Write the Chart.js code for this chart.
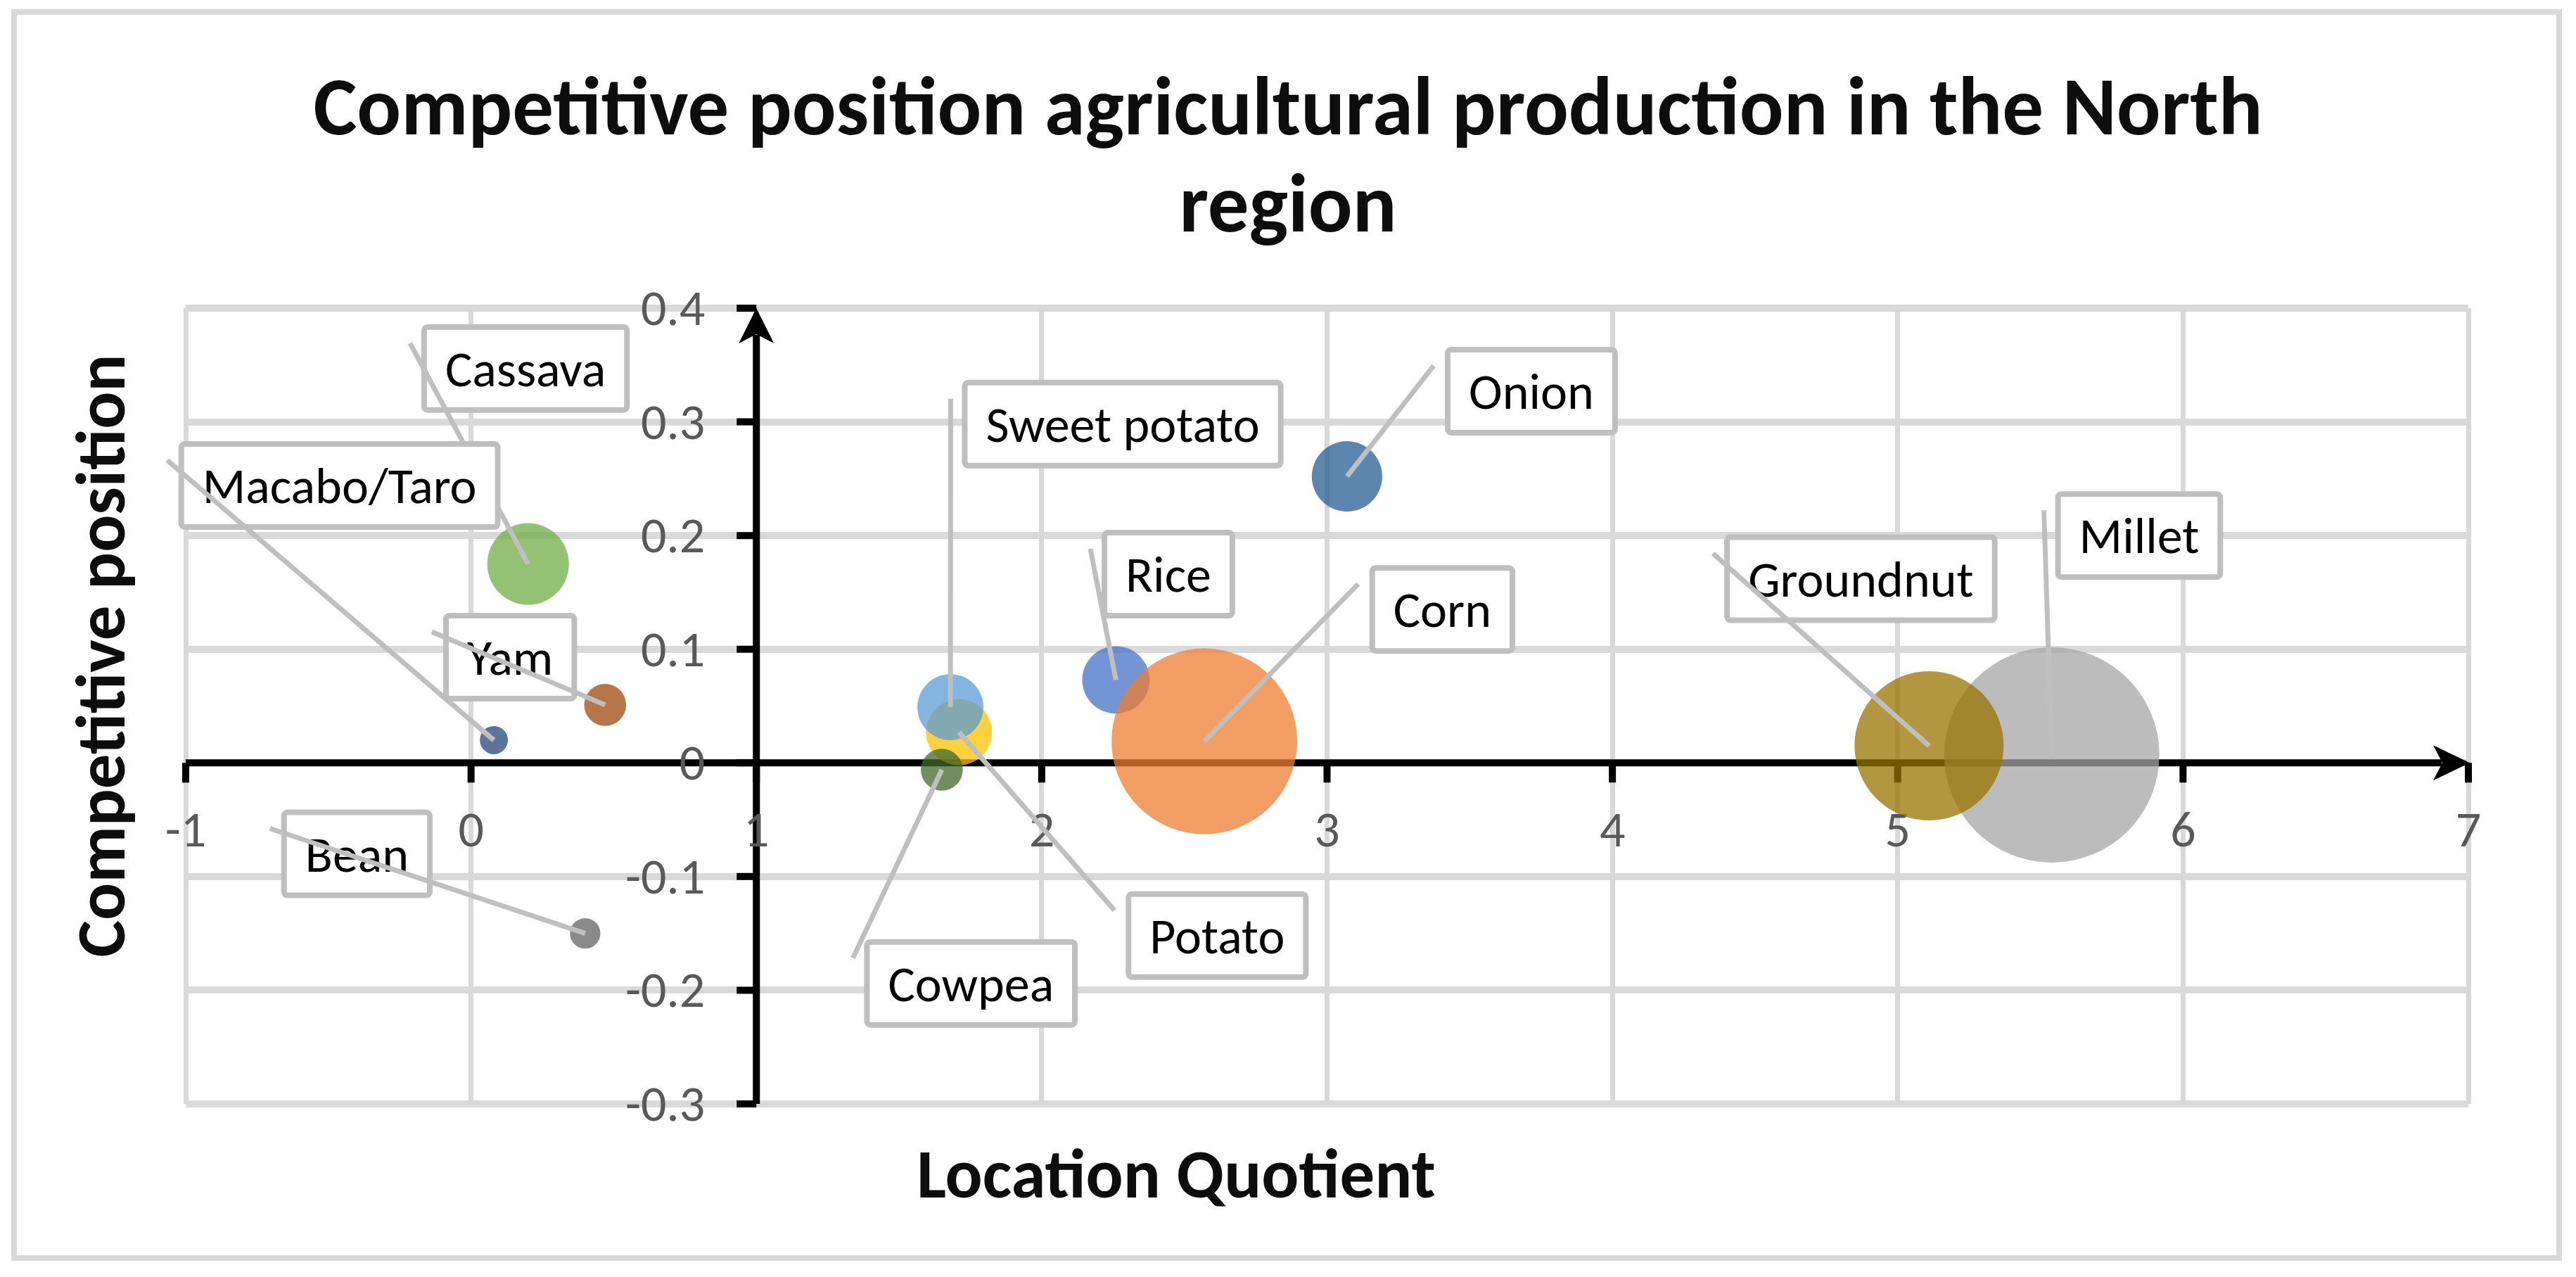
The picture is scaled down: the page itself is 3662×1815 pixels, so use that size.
<!DOCTYPE html>
<html>
<head>
<meta charset="utf-8">
<script src="https://cdn.jsdelivr.net/npm/chart.js@4.4.1/dist/chart.umd.min.js"></script>
<style>
  html, body { margin: 0; padding: 0; background: #fff; }
  #wrap { position: relative; width: 3662px; height: 1815px; }
</style>
</head>
<body>
<div id="wrap"><canvas id="bubbleChart" width="3662" height="1815"></canvas></div>
<script>
// crops, in the series order of the original sheet
const crops = ['Rice', 'Corn', 'Millet', 'Potato', 'Sweet potato', 'Cassava',
  'Macabo/Taro', 'Yam', 'Bean', 'Groundnut', 'Onion', 'Cowpea'];
const locationQuotient = [2.26, 2.57, 5.54, 1.71, 1.68, 0.20, 0.08, 0.47, 0.40, 5.11, 3.07, 1.65];
const competitivePosition = [0.073, 0.019, 0.007, 0.027, 0.049, 0.175, 0.020, 0.051, -0.150, 0.015, 0.252, -0.006];
// relative production (bubble size, area)
const production = [9.8, 74.4, 100, 9.4, 9.4, 14.4, 1.7, 3.8, 2.0, 48.0, 10.7, 3.8];

const xRange = [-1, 7];
const yRange = [-0.3, 0.4];

const chartTitle = ['Competitive position agricultural production in the North', 'region'];
const xTitle = 'Location Quotient';
const yTitle = 'Competitive position';

// styling
const cropColors = ['#4472C4', '#ED7D31', '#A5A5A5', '#FFC000', '#5B9BD5', '#70AD47',
  '#264478', '#9E480E', '#636363', '#997300', '#255E91', '#43682B'];
// where each data label box sits (centre, in axis units)
const labelPos = [[2.444, 0.166], [3.404, 0.135], [5.846, 0.200], [2.615, -0.152],
  [2.284, 0.298], [0.191, 0.347], [-0.461, 0.244], [0.137, 0.093], [-0.400, -0.080],
  [4.871, 0.162], [3.716, 0.327], [1.752, -0.194]];

const FONT = '"Carlito", "Lato", sans-serif';
const MAX_R = 153;

function hexA(hex, a) {
  const n = parseInt(hex.slice(1), 16);
  return `rgba(${n >> 16}, ${(n >> 8) & 255}, ${n & 255}, ${a})`;
}

const maxSize = Math.max(...production);
const points = crops.map((c, i) => ({
  x: locationQuotient[i],
  y: competitivePosition[i],
  r: MAX_R * Math.sqrt(production[i] / maxSize)
}));

const decor = {
  id: 'decor',
  beforeDraw(chart) {
    const ctx = chart.ctx;
    ctx.save();
    ctx.fillStyle = '#fff';
    ctx.fillRect(0, 0, chart.width, chart.height);
    ctx.strokeStyle = '#d9d9d9';
    ctx.lineWidth = 8;
    ctx.strokeRect(20, 17, 3618, 1771);
    ctx.restore();
  },
  beforeDatasetsDraw(chart) {
    const { ctx, scales: { x, y } } = chart;
    const ax = x.getPixelForValue(1);
    const ay = y.getPixelForValue(0);
    const top = y.getPixelForValue(yRange[1]);
    const bottom = y.getPixelForValue(yRange[0]);
    const left = x.getPixelForValue(xRange[0]);
    const right = x.getPixelForValue(xRange[1]);
    ctx.save();
    ctx.strokeStyle = '#000';
    ctx.fillStyle = '#000';
    ctx.lineWidth = 10;
    // axis lines
    ctx.beginPath();
    ctx.moveTo(ax, bottom);
    ctx.lineTo(ax, top + 38);
    ctx.moveTo(left, ay);
    ctx.lineTo(right - 38, ay);
    ctx.stroke();
    // tick marks
    ctx.beginPath();
    y.ticks.forEach(t => {
      const py = y.getPixelForValue(t.value);
      ctx.moveTo(ax - 28, py);
      ctx.lineTo(ax, py);
    });
    x.ticks.forEach(t => {
      const px = x.getPixelForValue(t.value);
      ctx.moveTo(px, ay);
      ctx.lineTo(px, ay + 28);
    });
    ctx.stroke();
    // arrow heads
    ctx.beginPath();
    ctx.moveTo(ax, top);
    ctx.lineTo(ax + 25, top + 50);
    ctx.lineTo(ax, top + 37);
    ctx.lineTo(ax - 25, top + 50);
    ctx.closePath();
    ctx.moveTo(right + 2, ay);
    ctx.lineTo(right - 50, ay - 25);
    ctx.lineTo(right - 37, ay);
    ctx.lineTo(right - 50, ay + 25);
    ctx.closePath();
    ctx.fill();
    // tick labels
    ctx.fillStyle = '#595959';
    ctx.font = `72px ${FONT}`;
    ctx.textAlign = 'right';
    ctx.textBaseline = 'alphabetic';
    y.ticks.forEach(t => {
      const v = Math.round(t.value * 10) / 10;
      ctx.fillText(String(v), ax - 73, y.getPixelForValue(t.value) + 24);
    });
    ctx.textAlign = 'center';
    x.ticks.forEach(t => {
      ctx.fillText(String(Math.round(t.value)), x.getPixelForValue(t.value), ay + 119);
    });
    ctx.restore();
  },
  afterDatasetsDraw(chart) {
    const { ctx, scales: { x, y } } = chart;
    ctx.save();
    ctx.font = `72px ${FONT}`;
    ctx.textAlign = 'center';
    ctx.textBaseline = 'alphabetic';
    crops.forEach((name, i) => {
      const cx = x.getPixelForValue(labelPos[i][0]);
      const cy = y.getPixelForValue(labelPos[i][1]);
      const w = ctx.measureText(name).width + 60;
      const h = 118;
      const bl = cx - w / 2, bt = cy - h / 2;
      ctx.fillStyle = '#fff';
      ctx.strokeStyle = '#bfbfbf';
      ctx.lineWidth = 8;
      ctx.beginPath();
      ctx.roundRect(bl, bt, w, h, 5);
      ctx.fill();
      ctx.stroke();
      ctx.fillStyle = '#000';
      ctx.fillText(name, cx, cy + 25);
      // leader line to the bubble centre
      ctx.lineWidth = 7;
      ctx.beginPath();
      ctx.moveTo(bl - 20, bt + 23);
      ctx.lineTo(x.getPixelForValue(locationQuotient[i]), y.getPixelForValue(competitivePosition[i]));
      ctx.stroke();
    });
    ctx.restore();
  },
  afterDraw(chart) {
    const ctx = chart.ctx;
    ctx.save();
    ctx.fillStyle = '#0d0d0d';
    ctx.textAlign = 'center';
    ctx.textBaseline = 'alphabetic';
    ctx.font = `bold 117px ${FONT}`;
    ctx.fillText(chartTitle[0], 1831, 191);
    ctx.fillText(chartTitle[1], 1831, 329);
    ctx.font = `bold 99px ${FONT}`;
    ctx.fillText(xTitle, 1672, 1702);
    ctx.translate(177, 932);
    ctx.rotate(-Math.PI / 2);
    ctx.fillText(yTitle, 0, 0);
    ctx.restore();
  }
};

new Chart(document.getElementById('bubbleChart'), {
  type: 'bubble',
  data: {
    datasets: [{
      label: 'Crops',
      data: points,
      backgroundColor: cropColors.map(c => hexA(c, 0.75)),
      borderWidth: 0,
      hoverBorderWidth: 0,
      clip: false
    }]
  },
  options: {
    responsive: false,
    animation: false,
    devicePixelRatio: 1,
    events: [],
    layout: { padding: { left: 264, top: 438, right: 135, bottom: 246 } },
    plugins: { legend: { display: false }, tooltip: { enabled: false }, title: { display: false } },
    scales: {
      x: {
        type: 'linear', min: xRange[0], max: xRange[1],
        ticks: { stepSize: 1, display: false },
        grid: { color: '#d9d9d9', lineWidth: 7, drawTicks: false },
        border: { display: false },
        afterFit(s) { s.height = 0; }
      },
      y: {
        type: 'linear', min: yRange[0], max: yRange[1],
        ticks: { stepSize: 0.1, display: false },
        grid: { color: '#d9d9d9', lineWidth: 10, drawTicks: false },
        border: { display: false },
        afterFit(s) { s.width = 0; }
      }
    }
  },
  plugins: [decor]
});
</script>
</body>
</html>
